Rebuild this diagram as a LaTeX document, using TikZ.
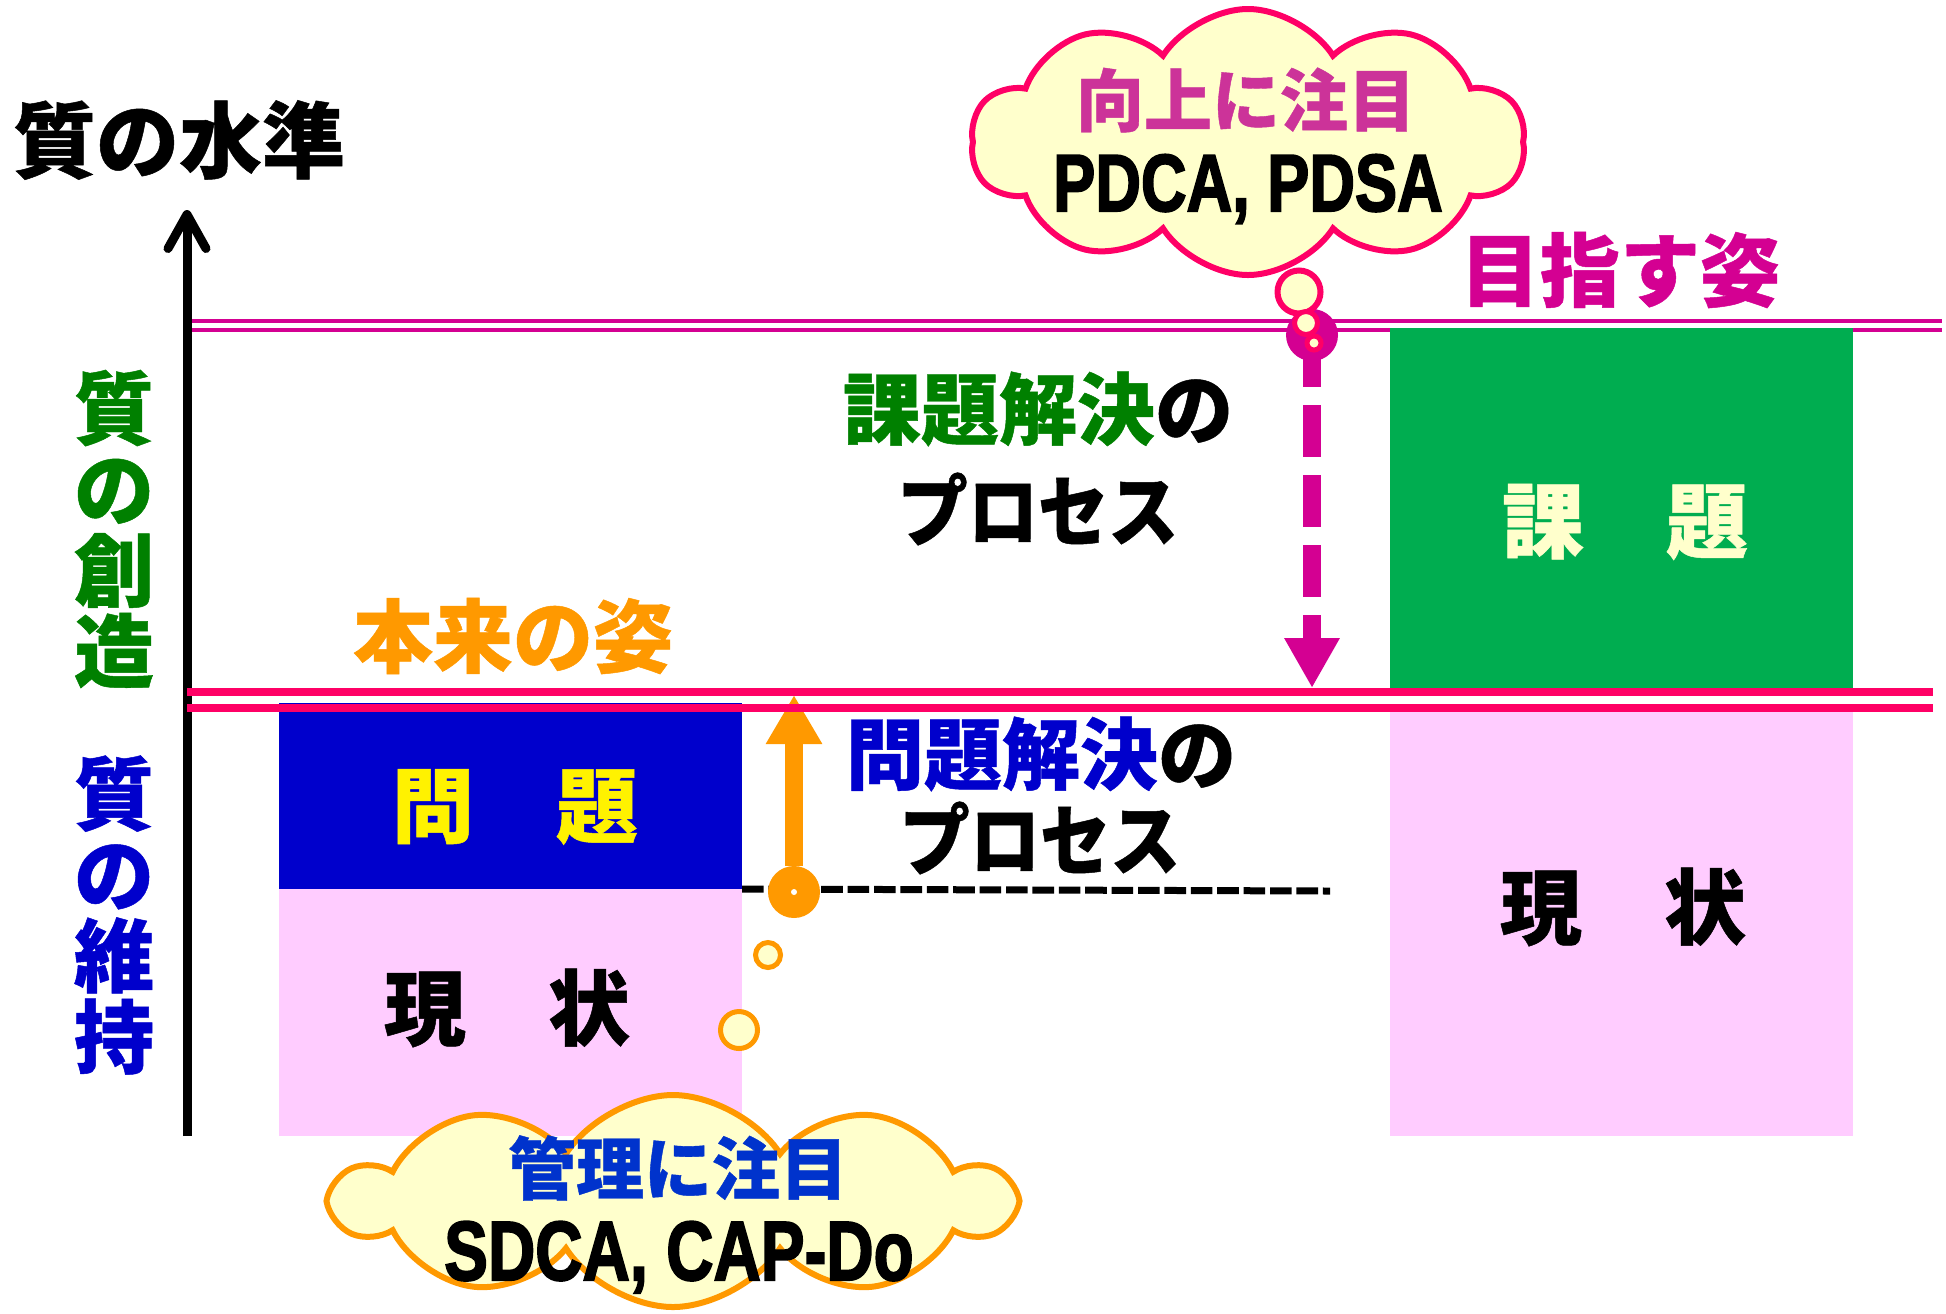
\documentclass[tikz,border=0pt]{standalone}
\usepackage{fontspec}
\setmainfont{Liberation Sans}[BoldFeatures={FakeBold=2.5}]
\newfontfamily\jp{Noto Sans CJK JP}[BoldFeatures={FakeBold=0.6}]
\usetikzlibrary{shapes.symbols,arrows.meta}
\definecolor{mag}{RGB}{212,0,146}
\definecolor{hotpink}{RGB}{255,0,102}
\definecolor{orng}{RGB}{255,153,0}
\definecolor{dgreen}{RGB}{0,128,0}
\definecolor{bgreen}{RGB}{0,173,80}
\definecolor{dblue}{RGB}{0,0,204}
\definecolor{cblue}{RGB}{0,51,204}
\definecolor{cream}{RGB}{255,255,204}
\definecolor{lpink}{RGB}{255,204,255}
\definecolor{pinkt}{RGB}{204,51,153}
\newcommand{\jpsz}[1]{\jp\bfseries\fontsize{#1}{#1}\selectfont}
\newcommand{\lasz}[1]{\bfseries\fontsize{#1}{#1}\selectfont}
\begin{document}
\begin{tikzpicture}[x=0.5pt,y=-0.5pt,
  box/.style={inner sep=0pt, outer sep=0pt, anchor=north west, draw=none, minimum width=231.5pt},
  lbl/.style={inner sep=0pt, outer sep=0pt},
  uline/.style={line width=2pt, draw=mag},
  pline/.style={line width=3.75pt, draw=hotpink},
  bubble/.style={circle, fill=cream, inner sep=0pt},
  cloudbox/.style={cloud, cloud puffs=10, cloud puff arc=115, fill=cream, line width=3pt, inner sep=0pt}]
\useasboundingbox[fill=white] (0,0) rectangle (1946,1313);

% upper double line (goal level)
\coordinate (u1L) at (192,321); \coordinate (u1R) at (1942,321);
\coordinate (u2L) at (192,330); \coordinate (u2R) at (1942,330);
\draw[uline] (u1L) -- (u1R);
\draw[uline] (u2L) -- (u2R);

% boxes
\node[box, fill=dblue, minimum height=93pt] (prob) at (279,703) {};
\node[box, fill=lpink, minimum height=123.5pt] (curL) at (279,889) {};
\node[box, fill=bgreen, minimum height=180pt] (task) at (1390,328) {};
\node[box, fill=lpink, minimum height=213pt] (curR) at (1390,710) {};

% box texts
\node[lbl, font=\jpsz{41pt}, text=yellow] (tmondai) at (515,807) {問　題};
\node[lbl, font=\jpsz{41pt}] (tgenL) at (507,1008) {現　状};
\node[lbl, font=\jpsz{41pt}, text=cream] (tkadai) at (1625,522) {課　題};
\node[lbl, font=\jpsz{41pt}] (tgenR) at (1623,907) {現　状};

% axis
\coordinate (axB) at (187,1136); \coordinate (axT) at (187,210);
\draw[line width=4.5pt, -{Straight Barb[length=17pt,width=19pt,round]}] (axB) -- (axT);
\node[lbl, font=\jpsz{41.5pt}] (title) at (179,140) {質の水準};

% vertical labels
\node[lbl, font={\jp\bfseries\fontsize{40pt}{40.5pt}\selectfont}, text=dgreen, align=center] (tsozo) at (114,529) {質\\の\\創\\造};
\node[lbl, font={\jp\bfseries\fontsize{40pt}{40.5pt}\selectfont}, text=dblue, align=center] (tiji) at (114,915) {質\\の\\維\\持};

% level labels
\node[lbl, font=\jpsz{40pt}, text=orng] (thon) at (513,636) {本来の姿};
\node[lbl, font=\jpsz{40pt}, text=mag] (tmezasu) at (1620,270) {目指す姿};

% process labels
\node[lbl, font=\jpsz{39pt}] (tkp1) at (1038,409) {\textcolor{dgreen}{課題解決}の};
\node[lbl, font=\jpsz{39pt}] (tkp2) at (1038,509) {\scalebox{0.9}[1]{プロセス}};
\node[lbl, font=\jpsz{39pt}] (tmp1) at (1041,754) {\textcolor{dblue}{問題解決}の};
\node[lbl, font=\jpsz{39pt}] (tmp2) at (1040,838) {\scalebox{0.9}[1]{プロセス}};

% dashed current level line
\coordinate (dend) at (1330,891);
\draw[line width=3.5pt, dash pattern=on 10.8pt off 2.4pt] (prob.south east) -- (dend);

% orange arrow (problem solving)
\node[circle, fill=orng, minimum size=26pt, inner sep=0pt] (odot) at (794,892) {};
\node[circle, fill=white, minimum size=3pt, inner sep=0pt] (odotc) at (odot.center) {};
\coordinate (otip) at (794,695);
\draw[line width=9pt, orng, -{Triangle[length=24.5pt,width=26.5pt]}] (odot) -- (otip);

% magenta dashed arrow (task achieving)
\node[circle, fill=mag, minimum size=26pt, inner sep=0pt] (mdot) at (1312,335) {};
\coordinate (mtip) at (1312,688);
\draw[line width=9pt, mag, dash pattern=on 26pt off 9pt, -{Triangle[length=25pt,width=26pt]}] (mdot.center) -- (mtip);

% lower double line (proper level)
\coordinate (l1L) at (187,692); \coordinate (l1R) at (1933,692);
\coordinate (l2L) at (187,708); \coordinate (l2R) at (1933,708);
\draw[pline] (l1L) -- (l1R);
\draw[pline] (l2L) -- (l2R);

% top cloud
\node[cloudbox, draw=hotpink, aspect=2.1, minimum width=277pt, minimum height=133pt] (tcloud) at (1248,142) {};
\node[bubble, draw=hotpink, line width=3pt, minimum size=21.5pt] (tb1) at (1299,292) {};
\node[bubble, draw=hotpink, line width=2.5pt, minimum size=11.5pt] (tb2) at (1306,323) {};
\node[bubble, draw=hotpink, line width=2.5pt, minimum size=7pt] (tb3) at (1314,343) {};
\node[lbl, font=\jpsz{34pt}, text=pinkt] (tkojo) at (1246,100) {向上に注目};
\node[lbl, font=\lasz{40.5pt}, anchor=base] (tpdca) at (1248,211) {\scalebox{0.78}[1]{PDCA, PDSA}};

% bottom cloud
\node[cloudbox, draw=orng, aspect=3.1, minimum width=338pt, minimum height=106pt] (bcloud) at (673,1201) {};
\node[bubble, draw=orng, line width=2.5pt, minimum size=12.5pt] (bb1) at (768,955) {};
\node[bubble, draw=orng, line width=2.5pt, minimum size=18.5pt] (bb2) at (739,1030) {};
\node[lbl, font=\jpsz{34pt}, text=cblue] (tkanri) at (678,1168) {管理に注目};
\node[lbl, font=\lasz{42pt}, anchor=base] (tsdca) at (679,1280) {\scalebox{0.78}[1]{SDCA, CAP-Do}};
\end{tikzpicture}
\end{document}
